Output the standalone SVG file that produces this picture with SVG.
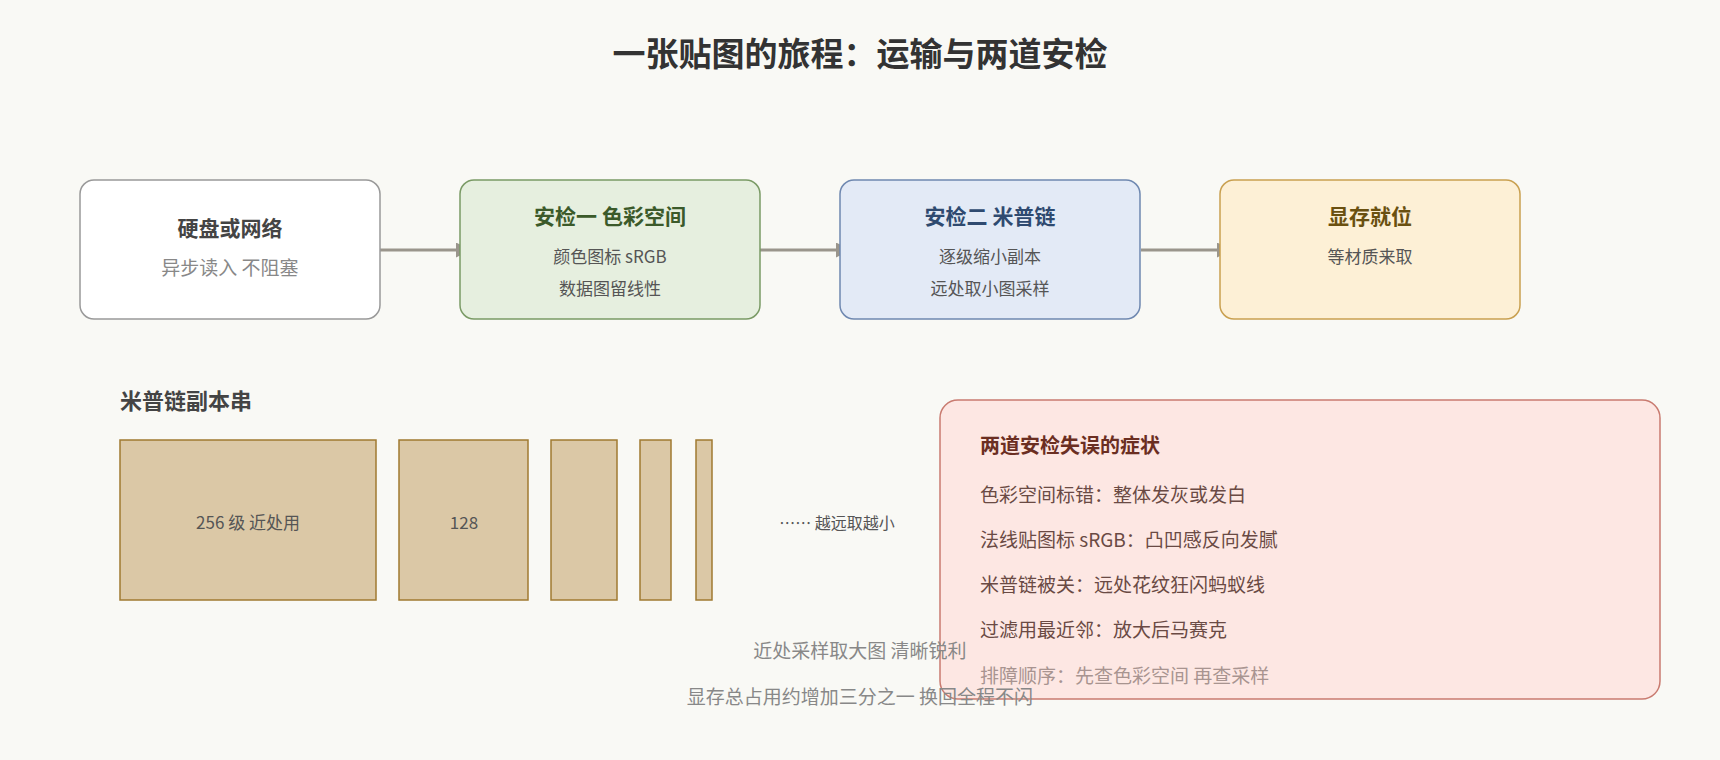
<svg xmlns="http://www.w3.org/2000/svg" width="1720" height="760" viewBox="0 0 1720 760">
<defs>
<style>
text{font-family:"Noto Sans CJK SC","Noto Sans",sans-serif}
.t{font-weight:bold;font-size:21px;text-anchor:middle}
.s{font-size:17px;fill:#555;text-anchor:middle}
.mip{fill:#dbc8a6;stroke:#a07a30;stroke-width:1.5}
.ml{font-size:17px;fill:#555;text-anchor:middle}
.it{font-size:19px;fill:#6a4a44}
.bt{font-size:19px;fill:#888;text-anchor:middle}
</style>
<marker id="ah" viewBox="0 0 10 10" refX="10" refY="5" markerWidth="5" markerHeight="5" orient="auto"><path d="M0,0L10,5L0,10z" fill="#9a958c"/></marker>
</defs>
<rect width="1720" height="760" fill="#f9f9f5"/>
<text x="860" y="66" text-anchor="middle" font-size="33" font-weight="bold" fill="#333">一张贴图的旅程：运输与两道安检</text>
<g id="connectors" stroke="#9a958c" stroke-width="3" fill="none" marker-end="url(#ah)">
<line x1="380" y1="250" x2="471" y2="250"/>
<line x1="760" y1="250" x2="851" y2="250"/>
<line x1="1141" y1="250" x2="1232" y2="250"/>
</g>
<g id="n1"><rect x="80" y="180" width="300" height="139" rx="14" fill="#fff" stroke="#999" stroke-width="1.5"/>
<text x="230" y="236" class="t" fill="#444">硬盘或网络</text><text x="230" y="275" class="s" style="font-size:19px;fill:#888">异步读入 不阻塞</text></g>
<g id="n2"><rect x="460" y="180" width="300" height="139" rx="14" fill="#e6efdf" stroke="#7a9a65" stroke-width="1.5"/>
<text x="610" y="224" class="t" fill="#3b5a2a">安检一 色彩空间</text><text x="610" y="263" class="s">颜色图标 sRGB</text><text x="610" y="295" class="s">数据图留线性</text></g>
<g id="n3"><rect x="840" y="180" width="300" height="139" rx="14" fill="#e3eaf6" stroke="#6f88b0" stroke-width="1.5"/>
<text x="990" y="224" class="t" fill="#2f4a70">安检二 米普链</text><text x="990" y="263" class="s">逐级缩小副本</text><text x="990" y="295" class="s">远处取小图采样</text></g>
<g id="n4"><rect x="1220" y="180" width="300" height="139" rx="14" fill="#fdf0d6" stroke="#c9a050" stroke-width="1.5"/>
<text x="1370" y="224" class="t" fill="#6a5010">显存就位</text><text x="1370" y="263" class="s">等材质来取</text></g>
<g id="mips">
<text x="120" y="409" font-size="22" font-weight="bold" fill="#444">米普链副本串</text>
<rect class="mip" x="120" y="440" width="256" height="160"/>
<rect class="mip" x="399" y="440" width="129" height="160"/>
<rect class="mip" x="551" y="440" width="66" height="160"/>
<rect class="mip" x="640" y="440" width="31" height="160"/>
<rect class="mip" x="696" y="440" width="16" height="160"/>
<text x="248" y="529" class="ml">256 级 近处用</text>
<text x="464" y="529" class="ml">128</text>
<text x="837" y="529" class="ml" style="font-size:16px">…… 越远取越小</text>
</g>
<g id="panel"><rect x="940" y="400" width="720" height="299" rx="18" fill="#fde7e3" stroke="#c97b70" stroke-width="1.5"/>
<text x="980" y="453" font-size="20" font-weight="bold" fill="#6b2e22">两道安检失误的症状</text>
<text x="980" y="502" class="it">色彩空间标错：整体发灰或发白</text>
<text x="980" y="547" class="it">法线贴图标 sRGB：凸凹感反向发腻</text>
<text x="980" y="592" class="it">米普链被关：远处花纹狂闪蚂蚁线</text>
<text x="980" y="637" class="it">过滤用最近邻：放大后马赛克</text>
<text x="980" y="683" class="it" style="fill:#a89490">排障顺序：先查色彩空间 再查采样</text>
</g>
<text x="860" y="658" class="bt">近处采样取大图 清晰锐利</text>
<text x="860" y="704" class="bt">显存总占用约增加三分之一 换回全程不闪</text>
</svg>
